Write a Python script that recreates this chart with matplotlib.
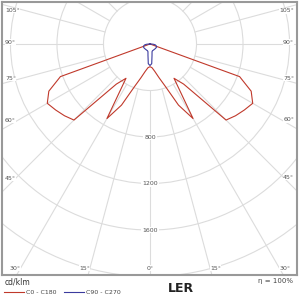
import numpy as np
import matplotlib.pyplot as plt
from matplotlib.patches import Circle

# luminous intensity (cd/klm) against gamma angle
gamma_c0 = [0, 5, 10, 15, 20, 25, 30, 35, 40, 45, 50, 55, 60, 65, 70, 75, 90, 180]
cd_c0 = [195, 205, 240, 300, 390, 580, 740, 360, 450, 925, 960, 990, 1020, 960, 820, 0, 0, 0]

gamma_c90 = [0, 5, 10, 15, 20, 30, 45, 60, 70, 80, 85, 90, 100, 180]
cd_c90 = [185, 170, 100, 68, 62, 60, 60, 62, 60, 48, 32, 12, 0, 0]

rings = [400, 800, 1200, 1600, 2000, 2400]
ring_labels = [800, 1200, 1600]
angle_labels = [0, 15, 30, 45, 60, 75, 90, 105]

K = 8.6  # cd per pixel
grid_col = "#dcdcdc"
txt_col = "#555555"


def both_sides(gam, val):
    g = np.radians(np.array(gam, dtype=float))
    v = np.array(val, dtype=float)
    x = np.concatenate([-(v * np.sin(g))[::-1], v * np.sin(g)])
    y = np.concatenate([-(v * np.cos(g))[::-1], -v * np.cos(g)])
    return x, y


fig = plt.figure(figsize=(3, 3), dpi=100)
ax = fig.add_axes([2 / 300, 25 / 300, 295 / 300, 273 / 300])
x0, x1 = -148 * K, 147 * K
y0, y1 = -231 * K, 42 * K
ax.set_xlim(x0, x1)
ax.set_ylim(y0, y1)
ax.set_xticks([])
ax.set_yticks([])
for s in ax.spines.values():
    s.set_color("#999999")
    s.set_linewidth(1.5)

for r in rings:
    ax.add_patch(Circle((0, 0), r, fill=False, ec=grid_col, lw=0.8, zorder=1))
for a in range(0, 360, 15):
    t = np.radians(a)
    ax.plot([400 * np.sin(t), 4000 * np.sin(t)], [-400 * np.cos(t), -4000 * np.cos(t)],
            color=grid_col, lw=0.8, zorder=1)

for r in ring_labels:
    ax.text(0, -r, str(r), fontsize=4.5, color=txt_col, ha="center", va="center",
            bbox=dict(fc="white", ec="none", pad=0.6), zorder=3)

# angle labels where the radial lines meet the frame
for a in angle_labels:
    t = np.radians(a)
    for side in (-1, 1):
        if a == 0 and side == -1:
            continue
        s, c = np.sin(t), -np.cos(t)
        ex = (x1 - 12 * K) if side > 0 else (x0 + 12 * K)
        if a > 0 and abs(ex / (side * s)) * abs(c) < (-y0 - 7 * K) or c >= 0:
            k = abs(ex) / s
            yy = c * k + (2 * K if c < 0 else -3 * K)
            xx = (x1 - 3 * K) if side > 0 else (x0 + 3 * K)
            ha = "right" if side > 0 else "left"
        else:
            yy = y0 + 7 * K
            xx = side * abs(yy) * s / abs(c)
            ha = "center" if a == 0 else ("left" if side > 0 else "right")
        ax.text(xx, yy, f"{a}°", fontsize=4.5, color=txt_col, ha=ha, va="center",
                bbox=dict(fc="white", ec="none", pad=0.3), zorder=3)

xr, yr = both_sides(gamma_c0, cd_c0)
xb, yb = both_sides(gamma_c90, cd_c90)
l1, = ax.plot(xr, yr, color="#c0392b", lw=0.8, zorder=5, label="C0 - C180")
l2, = ax.plot(xb, yb, color="#3b3b9e", lw=0.8, zorder=6, label="C90 - C270")

fig.text(5 / 300, 1 - 282 / 300, "cd/klm", fontsize=5.5, color="#333333", va="center")
fig.legend(handles=[l1, l2], loc="center left", bbox_to_anchor=(0.01, 1 - 292 / 300),
           ncol=2, frameon=False, fontsize=4.5, handlelength=3.2, columnspacing=1.2,
           handletextpad=0.3, borderaxespad=0, borderpad=0.2, labelcolor="#444444")
fig.text(181 / 300, 1 - 289 / 300, "LER", fontsize=9, fontweight="bold", color="#222222",
         ha="center", va="center")
fig.text(293 / 300, 1 - 281 / 300, "η = 100%", fontsize=5, color="#444444",
         ha="right", va="center")

fig.savefig("out.png", dpi=100)
